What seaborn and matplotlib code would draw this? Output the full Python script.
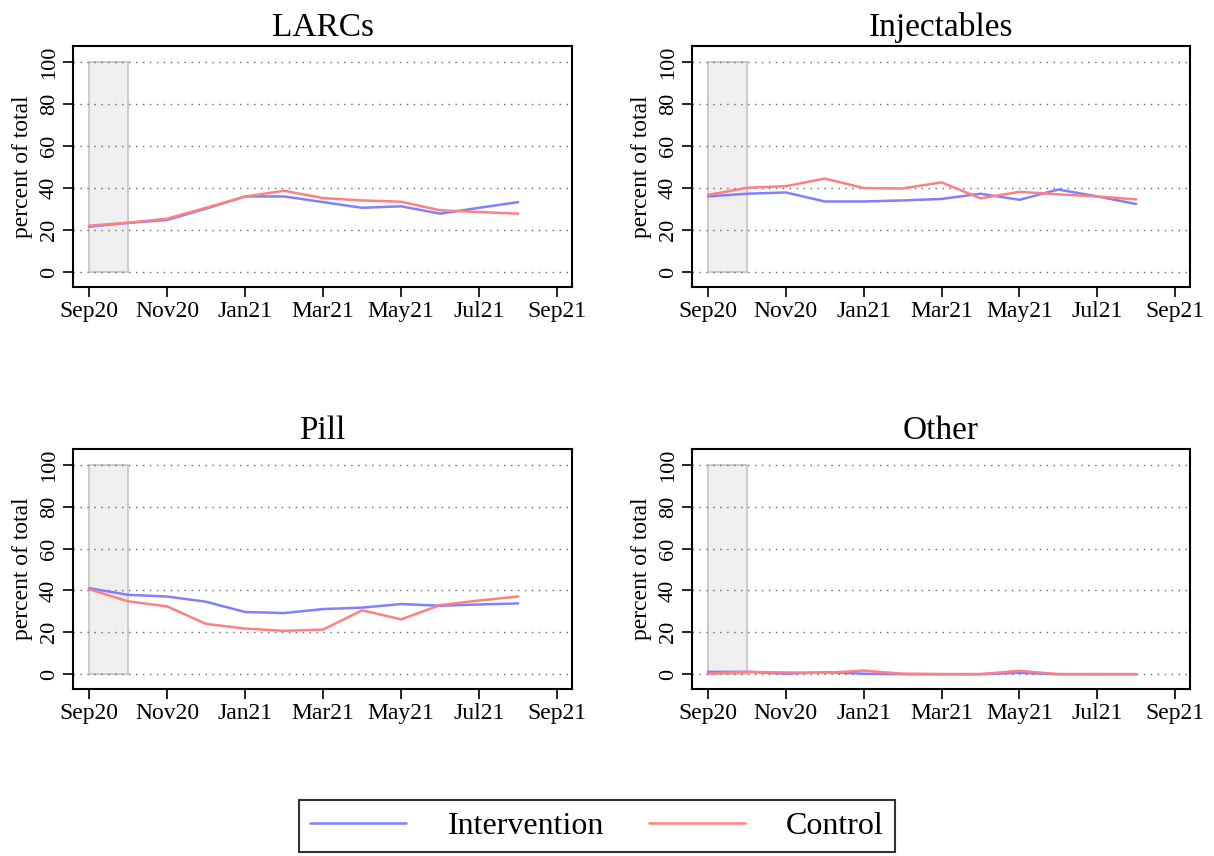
import matplotlib
matplotlib.use("Agg")
import matplotlib.pyplot as plt
import seaborn as sns
import pandas as pd
from matplotlib.patches import Rectangle
from matplotlib.lines import Line2D

months = ["Sep20", "Oct20", "Nov20", "Dec20", "Jan21", "Feb21", "Mar21",
          "Apr21", "May21", "Jun21", "Jul21", "Aug21"]
tick_labels = ["Sep20", "Nov20", "Jan21", "Mar21", "May21", "Jul21", "Sep21"]
panels = ["LARCs", "Injectables", "Pill", "Other"]

larcs_intervention = [21.6, 23.4, 24.8, 30.2, 36.0, 36.0, 33.3, 30.6, 31.3, 27.8, 30.6, 33.3]
larcs_control = [22.1, 23.5, 25.4, 30.6, 35.9, 38.7, 35.2, 34.1, 33.5, 29.4, 28.6, 27.8]
inj_intervention = [36.0, 37.3, 37.9, 33.6, 33.6, 34.1, 34.8, 37.3, 34.4, 39.3, 36.0, 32.4]
inj_control = [36.7, 40.1, 40.9, 44.5, 40.0, 39.8, 42.7, 35.1, 38.2, 37.0, 36.0, 34.6]
pill_intervention = [41.1, 37.9, 37.1, 34.6, 29.7, 29.2, 31.1, 31.8, 33.5, 32.7, 33.3, 33.8]
pill_control = [40.6, 34.8, 32.4, 24.0, 21.8, 20.7, 21.3, 30.5, 26.2, 33.0, 35.2, 37.1]
other_intervention = [1.1, 1.1, 0.2, 0.9, 0.2, 0.0, 0.0, 0.0, 0.6, 0.0, 0.0, 0.0]
other_control = [0.2, 1.1, 0.8, 0.6, 1.7, 0.2, 0.0, 0.0, 1.6, 0.0, 0.0, 0.0]

series = {
    "LARCs": (larcs_intervention, larcs_control),
    "Injectables": (inj_intervention, inj_control),
    "Pill": (pill_intervention, pill_control),
    "Other": (other_intervention, other_control),
}

rows = []
for p in panels:
    iv, cv = series[p]
    for i, m in enumerate(months):
        rows.append({"panel": p, "t": i, "group": "Intervention", "value": iv[i]})
        rows.append({"panel": p, "t": i, "group": "Control", "value": cv[i]})
df = pd.DataFrame(rows)

sns.set_theme(style="white")
plt.rcParams["font.family"] = ["Liberation Serif", "DejaVu Serif"]
plt.rcParams["text.color"] = "black"
plt.rcParams["axes.labelcolor"] = "black"
plt.rcParams["xtick.color"] = "black"
plt.rcParams["ytick.color"] = "black"

palette = {"Intervention": "#8080ff", "Control": "#ff8080"}

fig = plt.figure(figsize=(12.14, 8.56), dpi=100)
W, H = 1214, 856
boxes = [(73, 46, 572, 287), (692, 46, 1190, 287),
         (73, 449, 572, 689), (692, 449, 1190, 689)]

for p, (l, t, r, b) in zip(panels, boxes):
    ax = fig.add_axes([l / W, 1 - b / H, (r - l) / W, (b - t) / H])
    ax.add_patch(Rectangle((0, 0), 1, 100, facecolor="#efefef",
                           edgecolor="#c4c4c4", linewidth=1.2, zorder=1))
    for yv in range(0, 101, 20):
        ax.axhline(yv, color="#666666", linestyle=(0, (1, 4)), linewidth=1.0, zorder=2)
    sns.lineplot(data=df[df.panel == p], x="t", y="value", hue="group",
                 hue_order=["Intervention", "Control"], palette=palette,
                 linewidth=1.8, ax=ax, legend=False, zorder=3)
    ax.set_xlim(-0.41, 12.38)
    ax.set_ylim(-7.1, 107.6)
    ax.set_xticks(range(0, 13, 2))
    ax.set_xticklabels(tick_labels, fontsize=17)
    ax.set_yticks(range(0, 101, 20))
    ax.set_yticklabels([str(v) for v in range(0, 101, 20)], fontsize=16,
                       rotation=90, va="center")
    ax.set_xlabel("")
    ax.set_ylabel("percent of total", fontsize=17, labelpad=5)
    ax.set_title(p, fontsize=24, pad=7)
    ax.tick_params(axis="both", direction="out", length=7, width=1.2,
                   color="black", bottom=True, left=True, pad=3)
    for s in ax.spines.values():
        s.set_color("black")
        s.set_linewidth(1.5)

handles = [Line2D([0], [0], color=palette["Intervention"], linewidth=1.8),
           Line2D([0], [0], color=palette["Control"], linewidth=1.8)]
leg = fig.legend(handles, ["Intervention", "Control"], loc="center",
                 bbox_to_anchor=(597 / W, 1 - 826 / H), ncol=2, fontsize=23,
                 frameon=True, fancybox=False, edgecolor="black",
                 handlelength=3.0, columnspacing=1.4, handletextpad=1.3,
                 borderpad=0.35)
leg.get_frame().set_linewidth(1.5)

fig.savefig("out.png", dpi=100, facecolor="white")
